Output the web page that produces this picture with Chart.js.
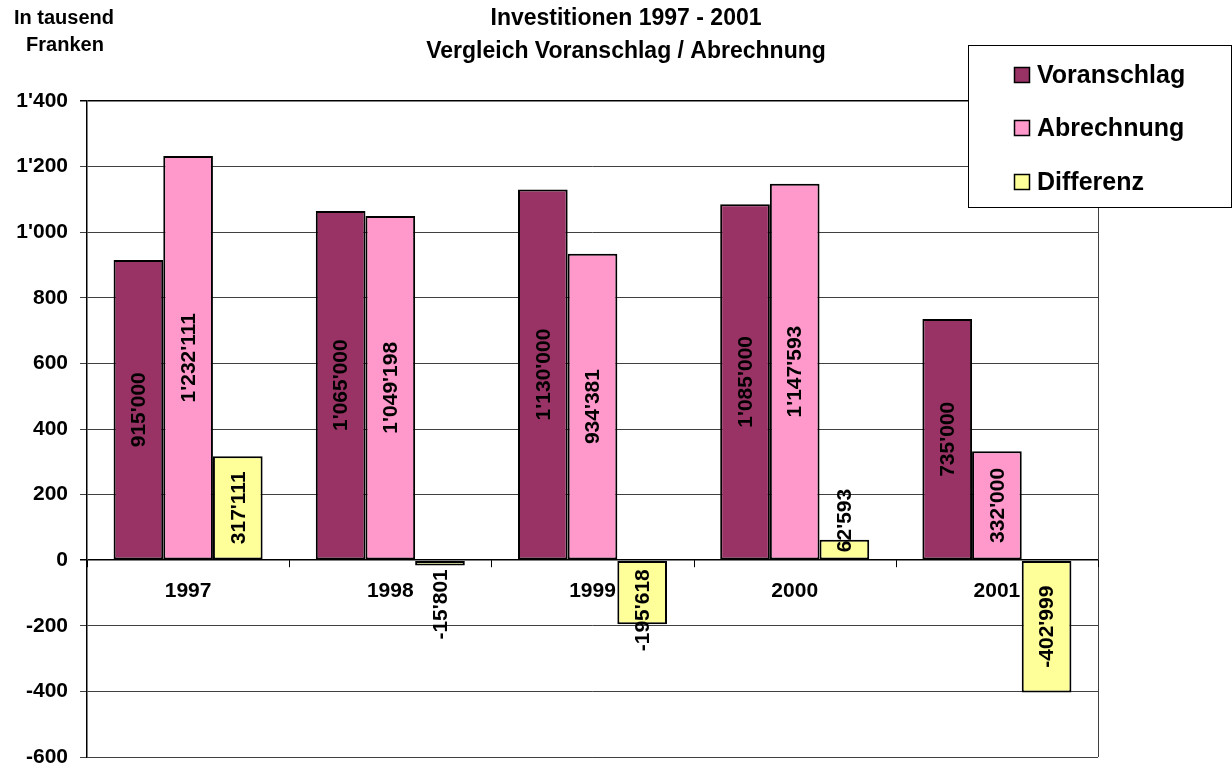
<!DOCTYPE html>
<html>
<head>
<meta charset="utf-8">
<script src="https://cdn.jsdelivr.net/npm/chart.js@4/dist/chart.umd.min.js"></script>
<style>
html,body{margin:0;padding:0;background:#fff;}
#wrap{width:1232px;height:769px;position:relative;}
</style>
</head>
<body>
<div id="wrap"><canvas id="c" width="1232" height="769"></canvas></div>
<script>
// Data (in thousand francs)
const categories = ['1997', '1998', '1999', '2000', '2001'];
const voranschlag = [915.000, 1065.000, 1130.000, 1085.000, 735.000];
const abrechnung = [1232.111, 1049.198, 934.381, 1147.593, 332.000];
const differenz = [317.111, -15.801, -195.618, 62.593, -402.999];
const seriesNames = ['Voranschlag', 'Abrechnung', 'Differenz'];
const titleLines = ['Investitionen 1997 - 2001', 'Vergleich Voranschlag / Abrechnung'];
const unitLines = ['In tausend', 'Franken'];
const yMin = -600, yMax = 1400, yStep = 200;

const FONT = '"Liberation Sans", Arial, sans-serif';

function fmt(n) {
  const s = String(Math.abs(Math.round(n))).replace(/\B(?=(\d{3})+(?!\d))/g, "'");
  return (n < 0 ? '-' : '') + s;
}

const overlay = {
  id: 'overlay',
  beforeDatasetsDraw(chart) {
    const ctx = chart.ctx;
    const xs = chart.scales.x, ys = chart.scales.y;
    const zero = ys.getPixelForValue(0);
    const area = chart.chartArea;
    ctx.save();
    // plot border right & bottom
    ctx.strokeStyle = '#404040';
    ctx.lineWidth = 1;
    ctx.beginPath();
    ctx.moveTo(area.right + 0.5, area.top);
    ctx.lineTo(area.right + 0.5, area.bottom);
    ctx.moveTo(area.left, area.bottom + 0.5);
    ctx.lineTo(area.right, area.bottom + 0.5);
    ctx.stroke();
    // category tick marks at zero line
    ctx.strokeStyle = '#000';
    const n = categories.length;
    const w = (area.right - area.left) / n;
    ctx.beginPath();
    for (let i = 0; i <= n; i++) {
      const x = Math.round(area.left + i * w) + 0.5;
      ctx.moveTo(x, zero);
      ctx.lineTo(x, zero + 7);
    }
    ctx.stroke();
    // category labels near zero line
    ctx.fillStyle = '#000';
    ctx.font = 'bold 21px ' + FONT;
    ctx.textAlign = 'center';
    ctx.textBaseline = 'middle';
    categories.forEach((c, i) => {
      ctx.fillText(c, xs.getPixelForValue(i), zero + 31);
    });
    ctx.restore();
  },
  afterDatasetsDraw(chart) {
    const ctx = chart.ctx;
    const ys = chart.scales.y;
    const zero = ys.getPixelForValue(0);
    ctx.save();
    ctx.font = 'bold 21px ' + FONT;
    ctx.fillStyle = '#000';
    ctx.textAlign = 'center';
    ctx.textBaseline = 'middle';
    chart.data.datasets.forEach((ds, di) => {
      const meta = chart.getDatasetMeta(di);
      meta.data.forEach((el, i) => {
        const v = ds.data[i];
        const txt = fmt(v * 1000);
        const tw = ctx.measureText(txt).width;
        const h = Math.abs(el.base - el.y);
        let cy;
        if (tw + 8 <= h) {
          cy = (el.y + el.base) / 2;
        } else if (v >= 0) {
          cy = zero - 8 - tw / 2;
        } else {
          cy = zero + 9 + tw / 2;
        }
        ctx.save();
        ctx.translate(el.x + 1, cy);
        ctx.rotate(-Math.PI / 2);
        ctx.fillText(txt, 0, 0);
        ctx.restore();
      });
    });
    ctx.restore();
  },
  afterDraw(chart) {
    const ctx = chart.ctx;
    ctx.save();
    ctx.fillStyle = '#000';
    ctx.textAlign = 'center';
    ctx.textBaseline = 'middle';
    // title
    ctx.font = 'bold 23px ' + FONT;
    ctx.fillText(titleLines[0], 626, 19);
    ctx.fillText(titleLines[1], 626, 52);
    // unit label
    ctx.font = 'bold 20px ' + FONT;
    ctx.fillText(unitLines[0], 64, 18);
    ctx.fillText(unitLines[1], 65, 45);
    // legend box
    ctx.fillStyle = '#fff';
    ctx.fillRect(968, 45, 264, 162);
    ctx.strokeStyle = '#000';
    ctx.lineWidth = 1;
    ctx.strokeRect(968.5, 45.5, 263, 162);
    const rows = [75, 128, 182];
    ctx.font = 'bold 25px ' + FONT;
    ctx.textAlign = 'left';
    chart.data.datasets.forEach((ds, i) => {
      ctx.fillStyle = ds.backgroundColor;
      ctx.fillRect(1014, rows[i] - 8, 16, 16);
      ctx.strokeStyle = '#000';
      ctx.lineWidth = 1.5;
      ctx.strokeRect(1014.5, rows[i] - 7.5, 15, 15);
      ctx.fillStyle = '#000';
      ctx.fillText(ds.label, 1037, rows[i] + 1);
    });
    ctx.restore();
  }
};

const colors = ['#993366', '#FF99CC', '#FFFF99'];
const seriesData = [voranschlag, abrechnung, differenz];

new Chart(document.getElementById('c'), {
  type: 'bar',
  data: {
    labels: categories,
    datasets: seriesNames.map((name, i) => ({
      label: name,
      data: seriesData[i],
      backgroundColor: colors[i],
      borderColor: '#000',
      borderWidth: 2,
      borderSkipped: false,
      categoryPercentage: 0.737,
      barPercentage: 1.0
    }))
  },
  options: {
    responsive: false,
    animation: false,
    layout: { padding: { top: 101, bottom: 12, right: 134, left: 0 } },
    plugins: {
      legend: { display: false },
      title: { display: false },
      tooltip: { enabled: false }
    },
    scales: {
      x: { display: false },
      y: {
        min: yMin, max: yMax,
        afterFit(scale) { scale.width = 87; scale.paddingTop = 0; scale.paddingBottom = 0; },
        ticks: {
          stepSize: yStep,
          color: '#000',
          padding: 12,
          font: { family: FONT, size: 21, weight: 'bold' },
          callback: v => fmt(v)
        },
        grid: {
          tickLength: 7,
          color: ctx => (ctx.tick && (ctx.tick.value === 0 || ctx.tick.value === yMax)) ? '#000' : '#404040',
          lineWidth: ctx => (ctx.tick && (ctx.tick.value === 0 || ctx.tick.value === yMax)) ? 1.5 : 1
        },
        border: { color: '#000', width: 1.5 }
      }
    }
  },
  plugins: [overlay]
});
</script>
</body>
</html>
